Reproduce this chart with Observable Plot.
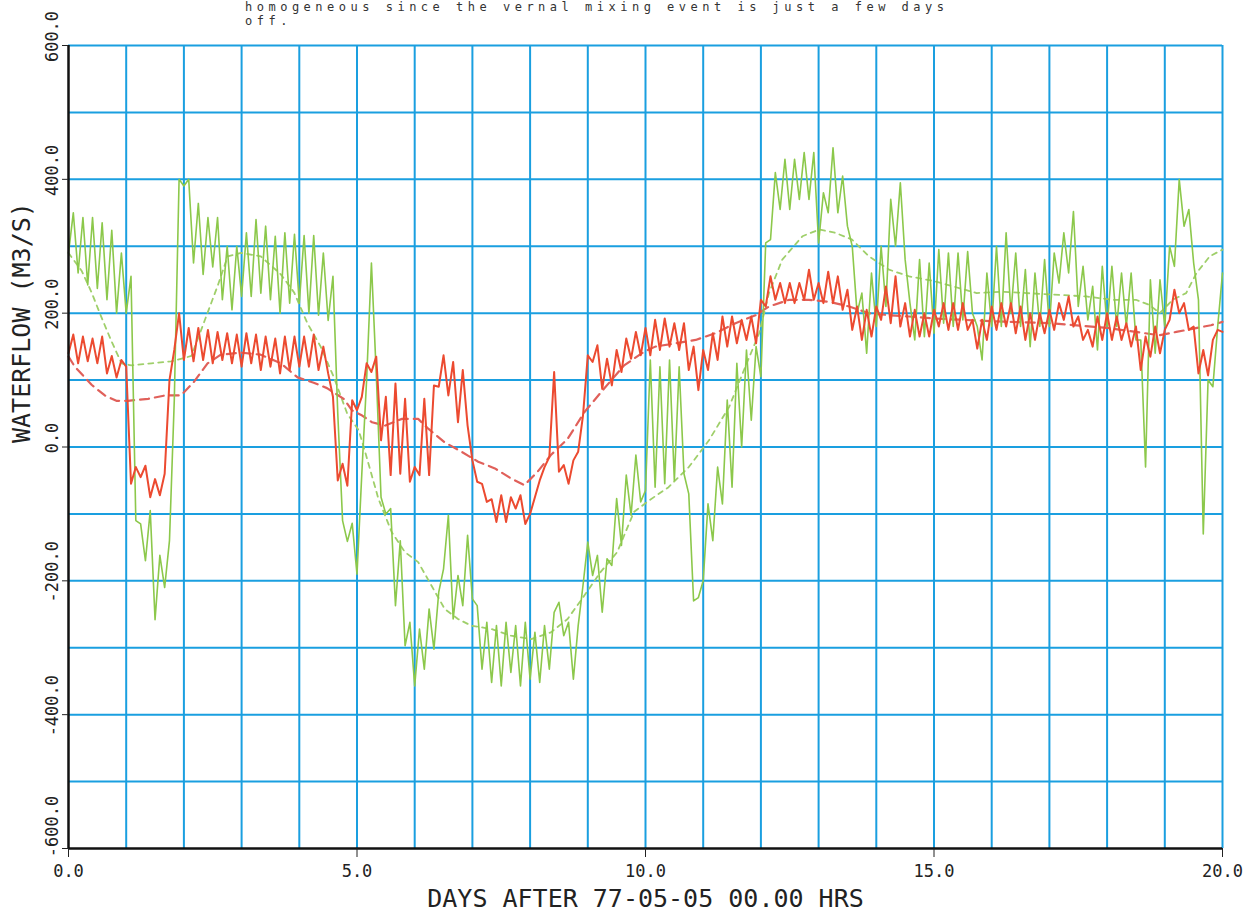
<!DOCTYPE html>
<html>
<head>
<meta charset="utf-8">
<script src="https://cdn.jsdelivr.net/npm/d3@7"></script>
<script src="https://cdn.jsdelivr.net/npm/@observablehq/plot@0.6"></script>
<style>
  body { margin: 0; background: #fff; }
  #wrap { position: relative; width: 1259px; height: 921px; overflow: hidden; background: #fff; }
  #wrap svg { position: absolute; left: 0; top: 0; }
  #note { position: absolute; left: 245px; top: 0px; font-family: "DejaVu Sans Mono", monospace; font-size: 12px;
          letter-spacing: 4.5px; line-height: 14px; color: #333; white-space: pre; z-index: 2; }
</style>
</head>
<body>
<div id="wrap"><div id="note">homogeneous since the vernal mixing event is just a few days
off.</div></div>
<script>
// ---- Data ----
const stepDays = 1 / 12;              // one sample every 2 hours
const xTicks = [0, 5, 10, 15, 20];
const yTicks = [600, 400, 200, 0, -200, -400, -600];
const yLabelsMain = [600, 400, 200, 0, -200, -400];
const yLabelsBottom = [-600];
const gridDays = [1,2,3,4,5,6,7,8,9,10,11,12,13,14,15,16,17,18,19,20];
const gridFlows = [600,500,400,300,200,100,0,-100,-200,-300,-400,-500];
const xTitle = "DAYS AFTER 77-05-05 00.00 HRS";
const yTitle = "WATERFLOW (M3/S)";

// red solid series, 12 samples per day
const redFlow = [
  140, 168, 125, 165, 128, 162, 125, 165, 110, 136, 104, 130,   // day 0
  120, -55, -30, -45, -28, -75, -48, -72, -40, 100, 145, 200,   // day 1
  130, 178, 128, 178, 130, 175, 125, 172, 130, 170, 125, 168,   // day 2
  120, 170, 125, 168, 115, 165, 120, 162, 110, 165, 115, 165,   // day 3
  120, 165, 120, 168, 115, 150, 110, 75, -50, -25, -58, 70,     // day 4
  55, 75, 125, 112, 135, 10, 75, -42, 95, -40, 72, -52,         // day 5
  -30, -42, 72, -42, 92, 90, 137, 77, 127, 37, 115, 32,         // day 6
  -20, -52, -55, -82, -78, -112, -72, -112, -75, -92, -72, -115,// day 7
  -100, -75, -50, -30, -15, 112, -37, -27, -55, -20, -7, 47,    // day 8
  137, 127, 152, 87, 132, 92, 145, 112, 162, 132, 172, 137,     // day 9
  178, 137, 190, 145, 192, 150, 185, 145, 185, 115, 150, 85,    // day 10
  145, 115, 170, 130, 195, 150, 195, 155, 190, 160, 195, 155,   // day 11
  220, 210, 255, 220, 245, 215, 245, 215, 245, 220, 265, 220,   // day 12
  245, 215, 262, 215, 255, 205, 235, 175, 210, 160, 205, 165,   // day 13
  210, 190, 240, 185, 255, 180, 215, 165, 205, 165, 200, 165,   // day 14
  205, 180, 215, 175, 215, 175, 215, 175, 190, 147, 190, 160,   // day 15
  210, 175, 215, 180, 215, 170, 210, 160, 200, 160, 200, 170,   // day 16
  205, 175, 215, 190, 225, 180, 195, 160, 175, 150, 195, 160,   // day 17
  200, 160, 195, 160, 185, 150, 180, 115, 165, 135, 180, 140,   // day 18
  175, 190, 235, 200, 215, 175, 180, 110, 145, 107, 160, 175,   // day 19
  172                                                           // day 20
];

// green solid series, 12 samples per day
const greenFlow = [
  290, 350, 260, 343, 242, 343, 237, 335, 220, 324, 200, 290,           // day 0
  200, 255, -110, -115, -170, -95, -258, -162, -210, -140, 70, 400,      // day 1
  390, 400, 275, 364, 258, 343, 269, 343, 220, 300, 205, 300,            // day 2
  225, 320, 225, 340, 230, 330, 220, 315, 200, 320, 215, 318,            // day 3
  215, 316, 200, 316, 197, 290, 189, 255, 50, -110, -141, -114,          // day 4
  -190, -40, 100, 275, 110, -75, -100, -92, -237, -140, -297, -262,      // day 5
  -357, -272, -332, -242, -302, -217, -182, -102, -257, -192, -237, -132,// day 6
  -227, -237, -332, -262, -352, -267, -357, -262, -337, -267, -357, -262,// day 7
  -347, -277, -352, -267, -332, -247, -232, -282, -262, -347, -267, -207,// day 8
  -142, -192, -162, -247, -167, -177, -77, -147, -42, -102, -12, -82,    // day 9
  -65, 130, -60, 120, -55, 130, -50, 120, -40, -70, -230, -225,          // day 10
  -200, -85, -140, -30, -85, 70, -60, 125, 0, 145, 40, 150,              // day 11
  105, 305, 310, 410, 355, 430, 355, 430, 370, 440, 370, 440,            // day 12
  305, 380, 350, 447, 350, 405, 330, 300, 200, 230, 140, 260,            // day 13
  180, 300, 210, 370, 300, 395, 280, 215, 160, 280, 165, 275,            // day 14
  170, 295, 185, 290, 180, 290, 190, 292, 200, 180, 130, 260,            // day 15
  180, 300, 180, 320, 200, 290, 180, 265, 150, 260, 180, 280,            // day 16
  180, 290, 245, 320, 260, 352, 210, 270, 190, 240, 145, 270,            // day 17
  180, 270, 180, 260, 180, 260, 160, 160, -30, 250, 140, 250,            // day 18
  180, 300, 270, 400, 330, 355, 275, 220, -130, 100, 90, 180,            // day 19
  260                                                                    // day 20
];

// dashed (smoothed) series
const redTrendDays = [0,0.11,0.4,0.63,0.83,1.03,1.38,1.67,1.95,2.18,2.41,2.64,2.99,3.33,3.68,3.97,4.25,4.48,4.77,4.91,5.09,5.26,5.49,5.78,6.06,6.24,6.52,6.81,7.1,7.39,7.67,7.9,8.13,8.36,8.65,8.94,9.28,9.63,9.97,10.17,10.52,10.87,11.21,11.56,11.91,12.14,12.49,12.83,13.18,13.53,13.87,14.22,14.57,15,16,17,18,18.5,18.9,19.2,19.5,19.8,20];
const redTrendFlow = [135,120,93,77,69,69,72,77,77,98,125,138,141,138,125,104,96,88,72,55,47,37,32,42,42,27,7,-7,-22,-32,-47,-57,-37,-12,12,52,87,122,142,150,155,160,170,185,197,210,220,220,217,210,200,197,195,192,188,185,178,172,167,172,177,182,187];

const greenTrendDays = [0,0.23,0.4,0.57,0.75,0.92,1.09,1.44,1.78,2.13,2.36,2.59,2.76,2.99,3.33,3.68,3.91,4.14,4.37,4.6,4.83,5.03,5.14,5.37,5.6,5.83,6.06,6.29,6.52,6.75,6.98,7.33,7.67,8.02,8.36,8.65,8.94,9.22,9.51,9.8,10.06,10.4,10.75,11.1,11.45,11.73,11.97,12.14,12.37,12.72,13.01,13.29,13.58,13.87,14.22,14.57,15,15.33,15.74,16.2,16.6,17.24,17.64,18.1,18.5,18.74,18.91,19.14,19.37,19.55,19.78,20];
const greenTrendFlow = [290,263,231,194,157,125,122,125,128,136,189,242,285,290,285,258,231,185,150,104,50,25,-7,-77,-127,-157,-172,-207,-242,-257,-267,-272,-282,-287,-277,-257,-222,-187,-157,-97,-80,-60,-30,10,60,120,170,230,280,315,325,320,310,285,265,255,248,240,230,232,230,227,225,220,220,212,200,220,230,260,285,295];

// ---- Build tables ----
const redPts = redFlow.map((v, i) => ({day: i * stepDays, flow: v}));
const greenPts = greenFlow.map((v, i) => ({day: i * stepDays, flow: v}));
const redTrend = redTrendDays.map((d, i) => ({day: d, flow: redTrendFlow[i]}));
const greenTrend = greenTrendDays.map((d, i) => ({day: d, flow: greenTrendFlow[i]}));

const blue = "#1a9fe0";
const mono = "'DejaVu Sans Mono', monospace";
const fmt = d => d.toFixed(1);

const chart = Plot.plot({
  width: 1259,
  height: 921,
  marginLeft: 68,
  marginRight: 37,
  marginTop: 45,
  marginBottom: 73,
  x: {domain: [0, 20]},
  y: {domain: [-600, 600]},
  style: {background: "white", fontFamily: mono, color: "#222"},
  marks: [
    Plot.gridX(gridDays, {stroke: blue, strokeOpacity: 1, strokeWidth: 2}),
    Plot.gridY(gridFlows, {stroke: blue, strokeOpacity: 1, strokeWidth: 2}),
    Plot.line(greenTrend, {x: "day", y: "flow", stroke: "#9fcf6a", strokeWidth: 1.8, strokeDasharray: "5,5"}),
    Plot.line(redTrend, {x: "day", y: "flow", stroke: "#e0605a", strokeWidth: 2.2, strokeDasharray: "9,6"}),
    Plot.line(greenPts, {x: "day", y: "flow", stroke: "#8cc84b", strokeWidth: 1.6}),
    Plot.line(redPts, {x: "day", y: "flow", stroke: "#ec4a30", strokeWidth: 2}),
    Plot.ruleX([0], {stroke: "#111", strokeWidth: 2.5}),
    Plot.ruleY([-600], {stroke: "#111", strokeWidth: 2.5}),
    Plot.axisX({ticks: xTicks, tickFormat: fmt, tickSize: 9, tickPadding: 7, fontSize: 17, label: null}),
    Plot.axisY({ticks: yTicks, tickSize: 6, tickFormat: () => "", label: null}),
    Plot.text(yLabelsMain, {frameAnchor: "left", y: d => d, text: fmt, rotate: -90, dx: -16, dy: -9, fontSize: 17, textAnchor: "middle"}),
    Plot.text(yLabelsBottom, {frameAnchor: "left", y: d => d, text: fmt, rotate: -90, dx: -16, dy: -22, fontSize: 17, textAnchor: "middle"}),
    Plot.text([xTitle], {frameAnchor: "bottom", dy: 58, fontSize: 25}),
    Plot.text([yTitle], {frameAnchor: "left", dx: -47, dy: -4, rotate: -90, fontSize: 25})
  ]
});
document.getElementById("wrap").appendChild(chart);
</script>
</body>
</html>
